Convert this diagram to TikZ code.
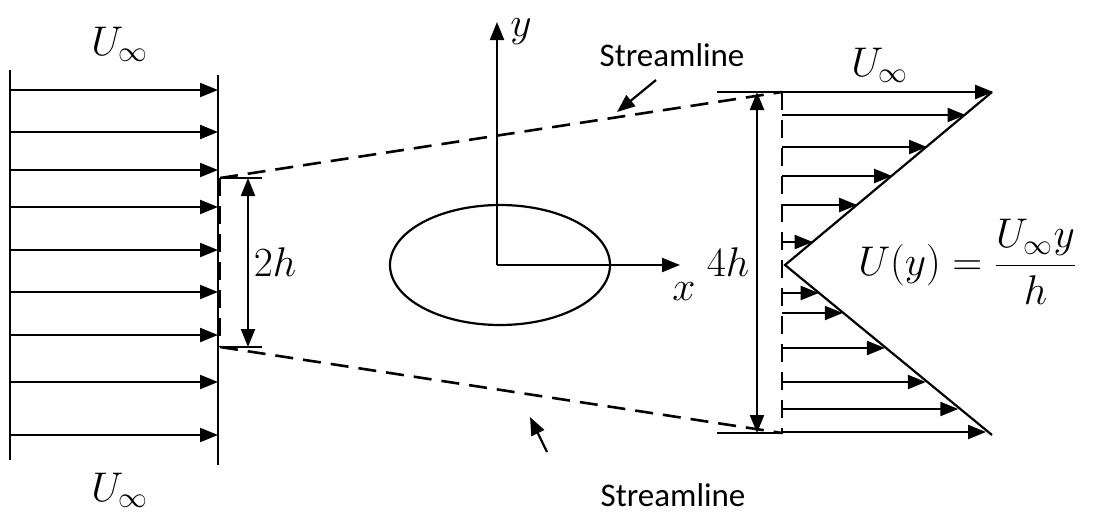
\documentclass[tikz,border=0pt]{standalone}
\usepackage{tikz}
\usetikzlibrary{arrows.meta, positioning, calc}
\usepackage{fontspec}
\setsansfont{Carlito}

\begin{document}
\begin{tikzpicture}[
    x=0.5pt, y=-0.5pt,
    line width=1.1pt,
    flow/.style={-{Triangle[length=9pt,width=7pt]}},
    dimline/.style={{Triangle[length=9pt,width=7pt]}-{Triangle[length=9pt,width=7pt]}},
    streamline/.style={line width=1.3pt, dash pattern=on 9pt off 5pt},
    label/.style={font=\sffamily\fontsize{16.5}{20}\selectfont},
    mathlabel/.style={font=\fontsize{21}{25}\selectfont}
]
\useasboundingbox (0,0) rectangle (1095,530);

% Uniform upstream flow
\draw (10,70) -- (10,460);
\draw (218,75) -- (218,465);
\foreach \yy in {90,132,170,207,250,292,335,382,435}
    \draw[flow] (10,\yy) -- (218,\yy);
\node[mathlabel] (uin) at (120,44) {$U_\infty$};
\node[mathlabel] (uout) at (120,490) {$U_\infty$};

% Upstream streamtube
\coordinate (lt) at (220,178);
\coordinate (lb) at (220,347);
\coordinate (rt) at (782,92);
\coordinate (rb) at (782,433);
\draw[streamline] (lt) -- (lb);
\draw[streamline] (lt) -- (rt);
\draw[streamline] (lb) -- (rb);
\draw (lt) -- ++(42,0);
\draw (lb) -- ++(42,0);
\draw[dimline] (248,178) -- (248,347);
\node[mathlabel] (twoh) at (275,262) {$2h$};

% Body and axes
\coordinate (o) at (497,265);
\draw (500,265) ellipse [x radius=110, y radius=60];
\draw[flow] (o) -- (497,22);
\draw[flow] (o) -- (680,265);
\node[mathlabel] (ylab) at (521,32) {$y$};
\node[mathlabel] (xlab) at (684,292) {$x$};

% Streamline labels
\node[label] (stop) at (672,55) {Streamline};
\node[label] (sbot) at (673,495) {Streamline};
\coordinate (ptop) at (617,112);
\coordinate (pbot) at (530,417);
\draw[flow] (656,80) -- (ptop);
\draw[flow] (547,452) -- (pbot);

% Downstream profile
\draw[streamline] (rt) -- (rb);
\draw (717,92) -- (783,92);
\draw (717,433) -- (783,433);
\draw[dimline] (757,92) -- (757,433);
\node[mathlabel] (fourh) at (728,262) {$4h$};
\coordinate (tip) at (785,265);
\coordinate (ttop) at (992,92);
\coordinate (tbot) at (992,435);
\draw (ttop) -- (tip) -- (tbot);
\foreach \yy in {92,115,147,176,205,242,293,313,348,382,409,432}
    \draw[flow] (782,\yy) -- ({785+abs(\yy-265)/172*207},\yy);
\node[mathlabel] (utop) at (880,65) {$U_\infty$};
\node[font=\fontsize{22}{27}\selectfont, anchor=east] (uy) at (1085,262) {$\displaystyle U(y)=\frac{U_\infty y}{h}$};

\end{tikzpicture}
\end{document}
